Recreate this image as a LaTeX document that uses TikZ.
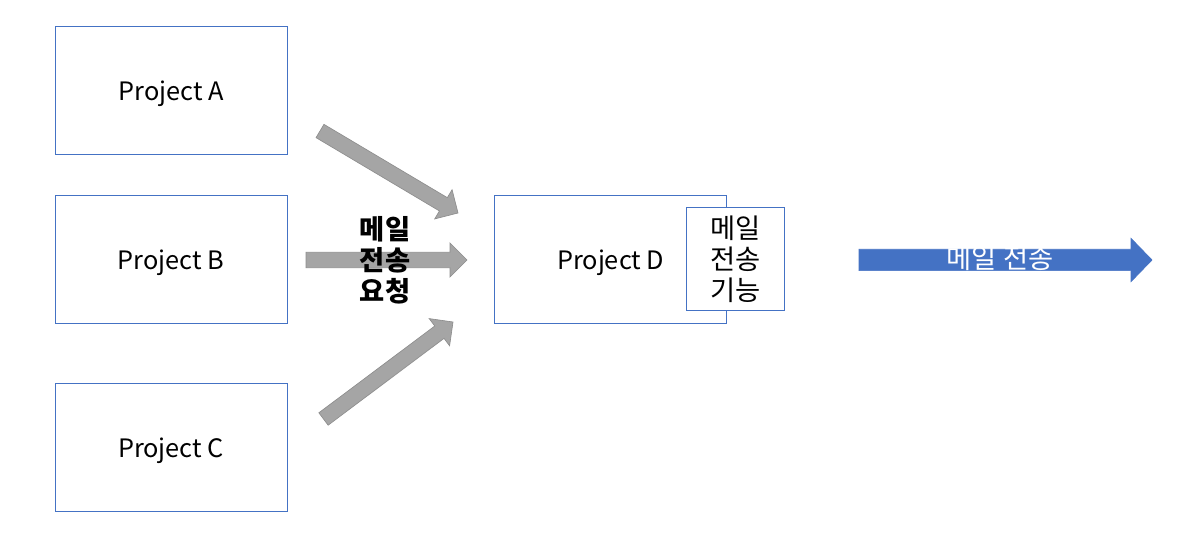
\documentclass[tikz,border=0pt]{standalone}
\usepackage{fontspec}
\setmainfont{Noto Sans CJK KR}
\usepackage{tikz}
\definecolor{azuloffice}{HTML}{4472C4}
\definecolor{grisflecha}{HTML}{A5A5A5}
\definecolor{grisborde}{HTML}{8E8E8E}
\usetikzlibrary{positioning, calc}

\newcommand{\flechabloque}[6]{%
  \coordinate (#3-base) at ($(#3)!#6!(#2)$);
  \filldraw[#1] ($(#2)!#4!90:(#3)$) -- ($(#3-base)!#4!90:(#3)$)
    -- ($(#3-base)!#5!90:(#3)$) -- (#3)
    -- ($(#3-base)!#5!-90:(#3)$) -- ($(#3-base)!#4!-90:(#3)$)
    -- ($(#2)!#4!-90:(#3)$) -- cycle;}

\begin{document}
\begin{tikzpicture}[
  x=0.75pt, y=-0.75pt,
  node distance=29.5pt and 155pt,
  caja/.style={
    rectangle, draw=azuloffice, fill=white, line width=0.75pt,
    font=\fontsize{19}{23.25}\selectfont, inner sep=0pt,
    minimum width=174pt, minimum height=96pt
  },
  proyecto/.style={caja, text depth=0pt},
  hangul/.style={font=\fontsize{20.5}{23.25}\selectfont},
  hangulnegrita/.style={font=\fontsize{20.5}{23.25}\selectfont\bfseries},
  gris/.style={fill=grisflecha, draw=grisborde, line width=0.5pt},
  azul/.style={fill=azuloffice, draw=azuloffice, line width=0.5pt}
]
  \useasboundingbox (0,0) rectangle (1188,559);
  \node[proyecto] (pa) at (171,91) {Project A};
  \node[proyecto, below=of pa] (pb) {Project B};
  \node[proyecto, below=44.5pt of pb] (pc) {Project C};
  \node[proyecto, right=of pb] (pd) {Project D};
  \node[caja, hangul, align=center, minimum width=73.5pt, minimum height=77.25pt]
    (fn) at ([xshift=6.5pt]pd.east) {메일\\전송\\기능};
  \coordinate (a1) at (320,131);
  \coordinate (a2) at (458,213);
  \coordinate (b1) at (306,260);
  \coordinate (b2) at (467,260);
  \coordinate (c1) at (323.5,419);
  \coordinate (c2) at (453,322);
  \foreach \o/\d in {a1/a2, b1/b2, c1/c2}
    \flechabloque{gris}{\o}{\d}{5.8pt}{12.75pt}{12.75pt};
  \node[hangulnegrita, align=center]
    (req) at (385,260) {메일\\전송\\요청};
  \coordinate (m1) at (859,260);
  \coordinate (m2) at (1152,260);
  \flechabloque{azul}{m1}{m2}{8pt}{16.25pt}{15.75pt}
  \node[hangul, text=white] (env) at (1000,258) {메일 전송};
\end{tikzpicture}
\end{document}
